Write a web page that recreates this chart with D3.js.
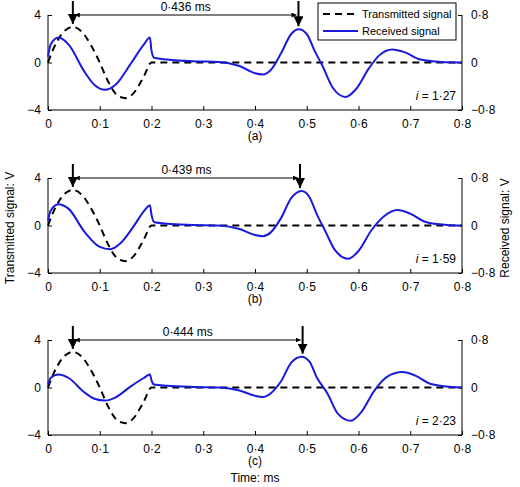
<!DOCTYPE html><html><head><script src="https://cdn.jsdelivr.net/npm/d3@7"></script>
<style>body{margin:0;background:#fff}text{font-family:"Liberation Sans",Arial,sans-serif;font-size:12px}</style></head><body>
<svg id="c" width="520" height="487"></svg>
<script>
const xTicks=[0,0.1,0.2,0.3,0.4,0.5,0.6,0.7,0.8];
const tx=[[0,0],[0.01,1.1],[0.025,2.3],[0.048,3],[0.065,2.6],[0.085,1.3],[0.1,0],[0.115,-1.5],[0.135,-2.8],[0.15,-3],[0.165,-2.6],[0.185,-1.2],[0.2,0],[0.8,0]];
const rxA=[[0,0.1],[0.005,0.3],[0.02,0.42],[0.04,0.3],[0.07,-0.15],[0.09,-0.38],[0.11,-0.46],[0.13,-0.38],[0.16,-0.02],[0.185,0.3],[0.197,0.42],[0.2,0.2],[0.205,0.08],[0.23,0.05],[0.28,0.02],[0.33,0.01],[0.37,-0.06],[0.4,-0.18],[0.415,-0.2],[0.43,-0.13],[0.45,0.15],[0.47,0.48],[0.485,0.56],[0.5,0.48],[0.515,0.2],[0.53,-0.05],[0.55,-0.42],[0.575,-0.58],[0.595,-0.45],[0.62,-0.1],[0.64,0.12],[0.665,0.22],[0.69,0.17],[0.72,0.05],[0.76,0.01],[0.8,0]];
const rxB=[[0,0.08],[0.005,0.25],[0.02,0.36],[0.04,0.28],[0.07,-0.1],[0.1,-0.36],[0.12,-0.4],[0.14,-0.3],[0.165,-0.02],[0.187,0.26],[0.197,0.34],[0.2,0.18],[0.205,0.06],[0.23,0.03],[0.28,0.01],[0.33,0],[0.37,-0.06],[0.4,-0.16],[0.415,-0.18],[0.43,-0.12],[0.45,0.12],[0.47,0.46],[0.49,0.58],[0.505,0.48],[0.52,0.18],[0.535,-0.08],[0.555,-0.42],[0.58,-0.56],[0.6,-0.43],[0.625,-0.08],[0.65,0.16],[0.675,0.26],[0.7,0.2],[0.73,0.06],[0.77,0.01],[0.8,0]];
const rxC=[[0,0.05],[0.005,0.16],[0.02,0.22],[0.04,0.16],[0.07,-0.08],[0.09,-0.19],[0.11,-0.22],[0.13,-0.17],[0.16,0.02],[0.185,0.16],[0.197,0.22],[0.2,0.12],[0.205,0.05],[0.23,0.03],[0.28,0.01],[0.33,0],[0.37,-0.05],[0.4,-0.14],[0.415,-0.16],[0.43,-0.1],[0.45,0.1],[0.47,0.42],[0.49,0.52],[0.505,0.44],[0.52,0.16],[0.54,-0.1],[0.56,-0.44],[0.585,-0.56],[0.605,-0.42],[0.63,-0.06],[0.655,0.18],[0.685,0.26],[0.71,0.2],[0.74,0.06],[0.78,0.01],[0.8,0]];
const panels=[{rx:rxA,dt:"0·436 ms",t2:0.484,i:"1·27",lab:"(a)"},{rx:rxB,dt:"0·439 ms",t2:0.487,i:"1·59",lab:"(b)"},{rx:rxC,dt:"0·444 ms",t2:0.492,i:"2·23",lab:"(c)"}];
const fmt=d=>d===0?"0":String(d).replace(".","·").replace("-","−");
const svg=d3.select("#c");
svg.append("defs").append("marker").attr("id","ah").attr("viewBox","0 0 10 10").attr("refX",10).attr("refY",5).attr("markerWidth",5).attr("markerHeight",5).attr("orient","auto-start-reverse").append("path").attr("d","M0,0L10,5L0,10Z").attr("fill","#000");
const x=d3.scaleLinear().domain([0,0.8]).range([48,462]);
const tops=[15,178,340];
panels.forEach((p,k)=>{
 const top=tops[k],bot=top+95;
 const yl=d3.scaleLinear().domain([-4,4]).range([bot,top]);
 const yr=d3.scaleLinear().domain([-0.8,0.8]).range([bot,top]);
 const g=svg.append("g");
 g.append("g").attr("transform",`translate(0,${bot})`).call(d3.axisBottom(x).tickValues(xTicks).tickSize(-4).tickPadding(9).tickFormat(fmt)).call(a=>a.select(".domain").attr("d",`M48,0H462`));
 g.append("g").attr("transform","translate(48,0)").call(d3.axisLeft(yl).tickValues([-4,0,4]).tickSize(-4).tickPadding(7).tickFormat(fmt)).call(a=>a.select(".domain").attr("d",`M0,${top}V${bot}`));
 g.append("g").attr("transform","translate(462,0)").call(d3.axisRight(yr).tickValues([-0.8,0,0.8]).tickSize(-4).tickPadding(9).tickFormat(fmt)).call(a=>a.select(".domain").attr("d",`M0,${top}V${bot}`));
 g.selectAll(".tick text").style("font-size","12px").attr("fill","#000");
 const ln=(ys)=>d3.line().x(d=>x(d[0])).y(d=>ys(d[1])).curve(d3.curveMonotoneX);
 g.append("path").attr("d",ln(yl)(tx)).attr("fill","none").attr("stroke","#000").attr("stroke-width",2).attr("stroke-dasharray","7,5");
 g.append("path").attr("d",ln(yr)(p.rx)).attr("fill","none").attr("stroke","#1a1adc").attr("stroke-width",2);
 const t1=0.048,ya=top;
 g.append("line").attr("x1",x(t1)).attr("x2",x(t1)).attr("y1",top-14).attr("y2",yl(3)-3).attr("stroke","#000").attr("stroke-width",2).attr("marker-end","url(#ah)");
 const pk=d3.max(p.rx,d=>d[1]);
 g.append("line").attr("x1",x(p.t2)).attr("x2",x(p.t2)).attr("y1",top-14).attr("y2",yr(pk)-3).attr("stroke","#000").attr("stroke-width",2).attr("marker-end","url(#ah)");
 g.append("line").attr("x1",x(t1)+2).attr("x2",x(p.t2)-2).attr("y1",ya).attr("y2",ya).attr("stroke","#000").attr("stroke-width",1).attr("marker-start","url(#ah)").attr("marker-end","url(#ah)");
 g.append("text").attr("x",(x(t1)+x(p.t2))/2).attr("y",ya-4).attr("text-anchor","middle").text(p.dt);
 const it=g.append("text").attr("x",456).attr("y",bot-10).attr("text-anchor","end");
 it.append("tspan").attr("font-style","italic").text("i");it.append("tspan").text(" = "+p.i);
 g.append("text").attr("x",255).attr("y",bot+30).attr("text-anchor","middle").text(p.lab);
});
const lg=svg.append("g");
lg.append("rect").attr("x",318).attr("y",3).attr("width",138).attr("height",37).attr("fill","#fff").attr("stroke","#000");
lg.append("line").attr("x1",323).attr("x2",358).attr("y1",14).attr("y2",14).attr("stroke","#000").attr("stroke-width",2).attr("stroke-dasharray","7,5");
lg.append("line").attr("x1",323).attr("x2",358).attr("y1",31).attr("y2",31).attr("stroke","#1a1adc").attr("stroke-width",2);
lg.append("text").attr("x",362).attr("y",18).style("font-size","11px").text("Transmitted signal");
lg.append("text").attr("x",362).attr("y",35).style("font-size","11px").text("Received signal");
svg.append("text").attr("transform","translate(14,228) rotate(-90)").attr("text-anchor","middle").text("Transmitted signal: V");
svg.append("text").attr("transform","translate(509,228) rotate(-90)").attr("text-anchor","middle").text("Received signal: V");
svg.append("text").attr("x",255).attr("y",482).attr("text-anchor","middle").text("Time: ms");
</script></body></html>
